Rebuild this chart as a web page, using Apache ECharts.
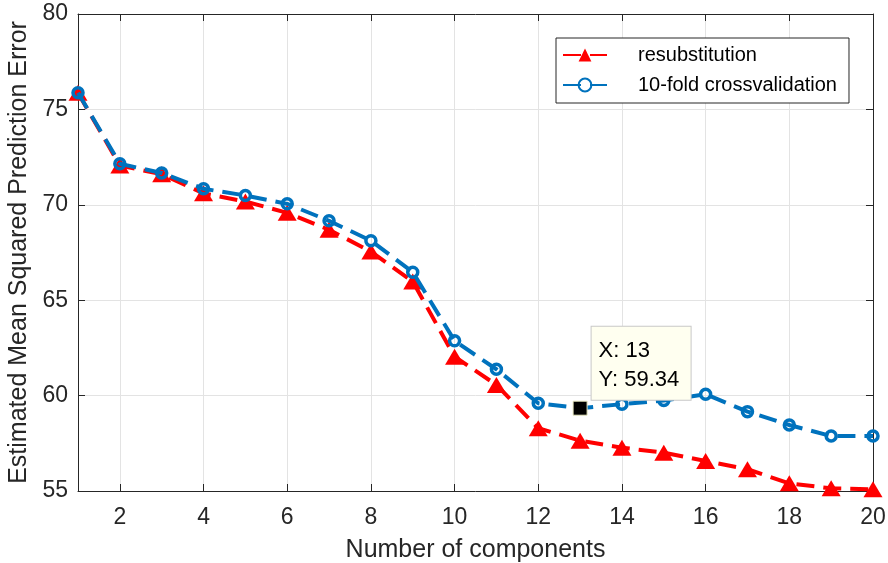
<!DOCTYPE html>
<html><head><meta charset="utf-8">
<script src="https://cdn.jsdelivr.net/npm/echarts@6/dist/echarts.min.js"></script>
<style>html,body{margin:0;padding:0;background:#fff}#c{width:888px;height:563px}</style>
</head><body><div id="c"></div>
<script>
const components = [1,2,3,4,5,6,7,8,9,10,11,12,13,14,15,16,17,18,19,20];
const resubstitution = [75.87,72.06,71.6,70.6,70.17,69.58,68.69,67.55,65.98,62.04,60.56,58.29,57.64,57.27,57.01,56.57,56.14,55.4,55.14,55.09];
const crossvalidation = [75.87,72.15,71.67,70.84,70.49,70.05,69.16,68.12,66.47,62.87,61.38,59.6,59.34,59.55,59.74,60.07,59.16,58.46,57.88,57.88];
const xTicks = [2,4,6,8,10,12,14,16,18,20];
const tipX = 13, tipY = 59.34;

const font = 'Liberation Sans, Arial, Helvetica, sans-serif';
const axisCol = '#262626';
const chart = echarts.init(document.getElementById('c'), null, {renderer:'canvas'});
const xBase = {
  type:'value', min:1, max:20,
  axisLine:{show:true, lineStyle:{color:axisCol, width:1}},
  axisTick:{show:true, inside:true, length:7, customValues:xTicks, lineStyle:{color:axisCol}},
  splitLine:{show:false},
};
const yBase = {
  type:'value', min:55, max:80, interval:5,
  axisLine:{show:true, lineStyle:{color:axisCol, width:1}},
  axisTick:{show:true, inside:true, length:7, lineStyle:{color:axisCol}},
  splitLine:{show:false},
};
chart.setOption({
  animation:false,
  backgroundColor:'#fff',
  grid:{left:78, right:15, top:14, bottom:72, containLabel:false, outerBoundsMode:'none'},
  legend:{
    left:556, top:38, width:284, orient:'vertical',
    backgroundColor:'#fff', borderColor:'#262626', borderWidth:1,
    padding:[7,12,8,6], itemGap:10, itemWidth:44, itemHeight:16,
    textStyle:{fontFamily:font, fontSize:20, color:'#000', padding:[0,0,0,26]},
    data:['resubstitution','10-fold crossvalidation']
  },
  xAxis:[
    Object.assign({}, xBase, {
      position:'bottom',
      name:'Number of components', nameLocation:'middle', nameGap:47,
      nameTextStyle:{fontFamily:font, fontSize:25, color:axisCol},
      axisLabel:{show:true, customValues:xTicks, margin:15, fontFamily:font, fontSize:23, color:axisCol},
      splitLine:{show:true, customValues:xTicks, lineStyle:{color:'#e3e3e3', width:1}}
    }),
    Object.assign({}, xBase, {position:'top', axisLabel:{show:false}})
  ],
  yAxis:[
    Object.assign({}, yBase, {
      position:'left',
      name:'Estimated Mean Squared Prediction Error', nameLocation:'middle', nameGap:44,
      nameTextStyle:{fontFamily:font, fontSize:25, color:axisCol},
      axisLabel:{show:true, margin:10, fontFamily:font, fontSize:23, color:axisCol},
      splitLine:{show:true, lineStyle:{color:'#e3e3e3', width:1}}
    }),
    Object.assign({}, yBase, {position:'right', axisLabel:{show:false}})
  ],
  series:[
    {
      name:'resubstitution', type:'line', xAxisIndex:0, yAxisIndex:0,
      data:components.map((c,i)=>[c,resubstitution[i]]),
      symbol:'triangle', symbolSize:[19,16], showAllSymbol:true,
      lineStyle:{color:'#FF0000', width:4, type:[18,9]},
      itemStyle:{color:'#FF0000', borderColor:'#FF0000', borderWidth:0},
      z:2
    },
    {
      name:'10-fold crossvalidation', type:'line', xAxisIndex:0, yAxisIndex:0,
      data:components.map((c,i)=>[c,crossvalidation[i]]),
      symbol:'circle', symbolSize:10, showAllSymbol:true,
      lineStyle:{color:'#0072BD', width:4, type:[18,9]},
      itemStyle:{color:'rgba(0,0,0,0)', borderColor:'#0072BD', borderWidth:3.5},
      z:3,
      markPoint:{
        symbol:'rect', symbolSize:14,
        itemStyle:{color:'#000', borderColor:'#e8e8c0', borderWidth:1},
        label:{
          show:true, position:[19,-74], align:'left', verticalAlign:'top',
          formatter:'X: ' + tipX + '\nY: ' + tipY,
          fontFamily:font, fontSize:22, color:'#000', lineHeight:29,
          backgroundColor:'#FFFFF0', borderColor:'#c8c8c8', borderWidth:1,
          padding:[10,8,5,7], width:84
        },
        data:[{coord:[tipX, tipY]}]
      }
    }
  ]
});
</script></body></html>
